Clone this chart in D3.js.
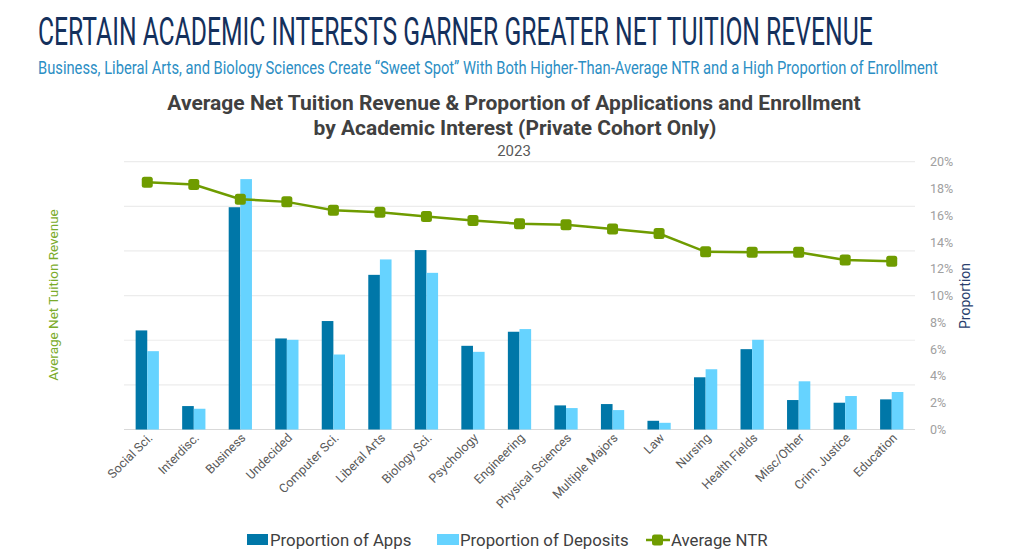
<!DOCTYPE html>
<html>
<head>
<meta charset="utf-8">
<script src="https://cdn.jsdelivr.net/npm/d3@7/dist/d3.min.js"></script>
<style>
  body { margin: 0; background: #fff; }
  svg { display: block; font-family: Roboto, "Noto Sans", sans-serif; }
</style>
</head>
<body>
<div id="chart"></div>
<script>
'use strict';

// data
var categories = ['Social Sci.', 'Interdisc.', 'Business', 'Undecided', 'Computer Sci.',
  'Liberal Arts', 'Biology Sci.', 'Psychology', 'Engineering', 'Physical Sciences',
  'Multiple Majors', 'Law', 'Nursing', 'Health Fields', 'Misc/Other', 'Crim. Justice', 'Education'];

var propApps = [7.4, 1.75, 16.6, 6.8, 8.1, 11.55, 13.4, 6.25, 7.3, 1.8, 1.9, 0.65, 3.9, 6.0, 2.2, 2.0, 2.25];
var propDeposits = [5.85, 1.55, 18.7, 6.7, 5.6, 12.7, 11.7, 5.8, 7.5, 1.6, 1.45, 0.5, 4.5, 6.7, 3.6, 2.5, 2.8];
var avgNTR = [27700, 27450, 25800, 25500, 24550, 24350, 23850, 23400, 23050, 22950,
  22450, 21950, 19900, 19850, 19850, 19000, 18850];

var propTicks = [0, 2, 4, 6, 8, 10, 12, 14, 16, 18, 20];
var ntrTicks = [0, 5000, 10000, 15000, 20000, 25000, 30000];

var width = 1024, height = 555;
var plotLeft = 124, plotRight = 915, plotTop = 161.7, plotBottom = 429.5;

var colApps = '#0077a8', colDep = '#66d3ff', colNTR = '#6f9c00';

var svg = d3.select('#chart').append('svg')
  .attr('width', width)
  .attr('height', height);

// squeeze a text horizontally so it spans w pixels
var fitText = function(sel, x, y, w){
  var len = sel.node().getComputedTextLength();
  sel.attr('transform', 'translate(' + x + ',' + y + ') scale(' + (w / len) + ',1)');
};

// headings
var title = svg.append('text')
  .style('font-size', '38px')
  .style('font-family', '"Liberation Sans Narrow", Roboto, sans-serif')
  .style('fill', '#14305c')
  .text('CERTAIN ACADEMIC INTERESTS GARNER GREATER NET TUITION REVENUE');
fitText(title, 38, 45, 835);

var subtitle = svg.append('text')
  .style('font-size', '18px')
  .style('font-family', '"Liberation Sans Narrow", Roboto, sans-serif')
  .style('fill', '#2b8ec4')
  .text('Business, Liberal Arts, and Biology Sciences Create \u201CSweet Spot\u201D With Both Higher-Than-Average NTR and a High Proportion of Enrollment');
fitText(subtitle, 38, 74, 900);

var head1 = svg.append('text')
  .attr('text-anchor', 'middle')
  .style('font-size', '20px').style('font-weight', 700)
  .style('fill', '#404040')
  .text('Average Net Tuition Revenue & Proportion of Applications and Enrollment');
fitText(head1, 514, 110, 694);

var head2 = svg.append('text')
  .attr('text-anchor', 'middle')
  .style('font-size', '20px').style('font-weight', 700)
  .style('fill', '#404040')
  .text('by Academic Interest (Private Cohort Only)');
fitText(head2, 515, 135, 403);

svg.append('text')
  .attr('x', 514).attr('y', 156)
  .attr('text-anchor', 'middle')
  .style('font-size', '15px')
  .style('fill', '#595959')
  .text('2023');

// scales
var x0 = d3.scaleBand()
  .domain(categories)
  .range([plotLeft, plotRight])
  .paddingInner(0.5)
  .paddingOuter(0.25);

var x1 = d3.scaleBand()
  .domain(['apps', 'dep'])
  .range([0, x0.bandwidth()]);

var yProp = d3.scaleLinear().domain([0, 20]).range([plotBottom, plotTop]);
var yNTR = d3.scaleLinear().domain([0, 30000]).range([plotBottom, plotTop]);

// gridlines follow the (hidden) NTR axis
svg.append('g')
  .selectAll('line')
  .data(ntrTicks)
  .enter().append('line')
    .attr('x1', plotLeft).attr('x2', plotRight)
    .attr('y1', function(d){ return yNTR(d); })
    .attr('y2', function(d){ return yNTR(d); })
    .style('stroke', function(d){ return d === 0 ? '#d9d9d9' : '#ececec'; })
    .style('stroke-width', 1.2);

// right axis
var rightAxis = svg.append('g')
  .attr('transform', 'translate(' + (plotRight + 12) + ',0)')
  .call(d3.axisRight(yProp).tickValues(propTicks).tickSize(0)
    .tickFormat(function(d){ return d + '%'; }));
rightAxis.select('.domain').remove();
rightAxis.selectAll('text')
  .style('font-size', '12.5px')
  .style('fill', '#a0a0a0')
  .style('font-family', 'Roboto, sans-serif');

// bars
var groups = svg.append('g')
  .selectAll('g')
  .data(categories)
  .enter().append('g')
    .attr('transform', function(d){ return 'translate(' + x0(d) + ',0)'; });

groups.append('rect')
  .attr('x', x1('apps'))
  .attr('width', x1.bandwidth())
  .attr('y', function(d, i){ return yProp(propApps[i]); })
  .attr('height', function(d, i){ return plotBottom - yProp(propApps[i]); })
  .style('fill', colApps);

groups.append('rect')
  .attr('x', x1('dep'))
  .attr('width', x1.bandwidth())
  .attr('y', function(d, i){ return yProp(propDeposits[i]); })
  .attr('height', function(d, i){ return plotBottom - yProp(propDeposits[i]); })
  .style('fill', colDep);

// NTR line + markers
var cx = function(d, i){ return x0(categories[i]) + x0.bandwidth() / 2; };

var line = d3.line()
  .x(function(d, i){ return cx(d, i); })
  .y(function(d){ return yNTR(d); });

svg.append('path')
  .datum(avgNTR)
  .attr('d', line)
  .style('fill', 'none')
  .style('stroke', colNTR)
  .style('stroke-width', 2.5);

svg.append('g')
  .selectAll('rect')
  .data(avgNTR)
  .enter().append('rect')
    .attr('x', function(d, i){ return cx(d, i) - 5.5; })
    .attr('y', function(d){ return yNTR(d) - 5.5; })
    .attr('width', 11).attr('height', 11)
    .attr('rx', 2.5)
    .style('fill', colNTR);

// category labels
var xAxis = svg.append('g')
  .attr('transform', 'translate(0,' + plotBottom + ')')
  .call(d3.axisBottom(x0).tickSize(0));
xAxis.select('.domain').remove();
xAxis.selectAll('text')
  .attr('transform', 'translate(3,6) rotate(-45)')
  .attr('dy', '0.35em')
  .attr('x', 0).attr('y', 0)
  .style('text-anchor', 'end')
  .style('font-size', '12.5px')
  .style('fill', '#595959')
  .style('font-family', 'Roboto, sans-serif');

// axis titles
svg.append('text')
  .attr('transform', 'translate(58,295) rotate(-90)')
  .attr('text-anchor', 'middle')
  .style('font-size', '13.5px')
  .style('fill', '#7aab2a')
  .text('Average Net Tuition Revenue');

svg.append('text')
  .attr('transform', 'translate(970,296) rotate(-90)')
  .attr('text-anchor', 'middle')
  .style('font-size', '14px')
  .style('fill', '#2a3f6e')
  .text('Proportion');

// legend
var legend = svg.append('g').attr('transform', 'translate(0,540)');

legend.append('rect').attr('x', 247).attr('y', -6).attr('width', 21).attr('height', 11).style('fill', colApps);
legend.append('text').attr('x', 270).attr('y', 6).style('font-size', '16.8px').style('fill', '#404040')
  .text('Proportion of Apps');

legend.append('rect').attr('x', 437).attr('y', -6).attr('width', 22).attr('height', 11).style('fill', colDep);
legend.append('text').attr('x', 460).attr('y', 6).style('font-size', '16.8px').style('fill', '#404040')
  .text('Proportion of Deposits');

legend.append('line').attr('x1', 646).attr('x2', 670).attr('y1', 0).attr('y2', 0)
  .style('stroke', colNTR).style('stroke-width', 2.5);
legend.append('rect').attr('x', 652).attr('y', -5.5).attr('width', 11).attr('height', 11).attr('rx', 2.5)
  .style('fill', colNTR);
legend.append('text').attr('x', 671).attr('y', 6).style('font-size', '16.8px').style('fill', '#404040')
  .text('Average NTR');
</script>
</body>
</html>
